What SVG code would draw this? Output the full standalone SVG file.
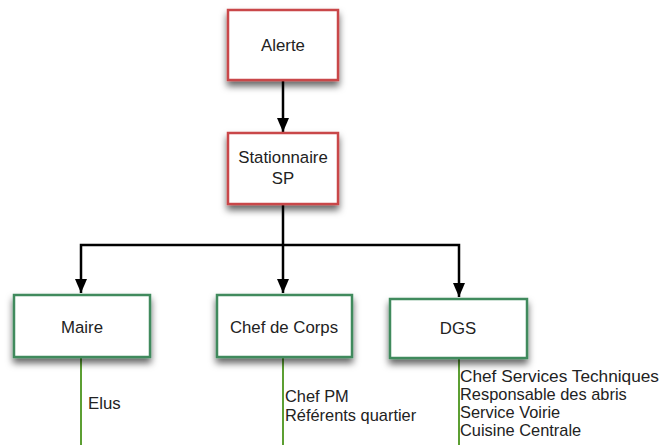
<svg xmlns="http://www.w3.org/2000/svg" width="661" height="445" viewBox="0 0 661 445">
  <style>
    .lbl { font-family: "Liberation Sans", Arial, sans-serif; font-size: 16.8px; fill: #222; }
    .list { font-size: 16.4px; }
    .ctr { text-anchor: middle; }
    .alert { fill: #fff; stroke: #c9464a; stroke-width: 2.5; }
    .role { fill: #fff; stroke: #3f8a5d; stroke-width: 2.5; }
    .flow { fill: none; stroke: #000; stroke-width: 2.5; }
    .duty { fill: none; stroke: #5c9f33; stroke-width: 2; }
  </style>
  <defs>
    <filter id="shadow" x="-20%" y="-20%" width="140%" height="170%">
      <feDropShadow dx="0" dy="5" stdDeviation="3.5" flood-color="#000" flood-opacity="0.6"/>
    </filter>
    <marker id="arrow" viewBox="0 0 14 12" refX="14" refY="6" markerWidth="5.6" markerHeight="4.8" markerUnits="strokeWidth" orient="auto">
      <path d="M0,0 L14,6 L0,12 Z" fill="#000"/>
    </marker>
  </defs>

  <rect width="661" height="445" fill="#fff"/>

  <!-- connectors -->
  <g id="connectors">
    <path class="flow" d="M283,80 V132" marker-end="url(#arrow)"/>
    <path class="flow" d="M283,204 V293" marker-end="url(#arrow)"/>
    <path class="flow" d="M283,245 H81 V293" marker-end="url(#arrow)"/>
    <path class="flow" d="M283,245 H459 V297" marker-end="url(#arrow)"/>
    <path class="duty" d="M81,357 V445"/>
    <path class="duty" d="M283,357 V445"/>
    <path class="duty" d="M459,358 V445"/>
  </g>

  <g id="alerte">
    <rect class="alert" x="228" y="10" width="110" height="70" filter="url(#shadow)"/>
    <text class="lbl ctr" x="283" y="51">Alerte</text>
  </g>

  <g id="stationnaire">
    <rect class="alert" x="228" y="133" width="110" height="71" filter="url(#shadow)"/>
    <text class="lbl ctr" x="283" y="163">Stationnaire</text>
    <text class="lbl ctr" x="283" y="184">SP</text>
  </g>

  <g id="maire">
    <rect class="role" x="14" y="295" width="136" height="62" filter="url(#shadow)"/>
    <text class="lbl ctr" x="82" y="333">Maire</text>
  </g>

  <g id="chef-de-corps">
    <rect class="role" x="217" y="295" width="135" height="62" filter="url(#shadow)"/>
    <text class="lbl ctr" x="284" y="333">Chef de Corps</text>
  </g>

  <g id="dgs">
    <rect class="role" x="390" y="299" width="137" height="59" filter="url(#shadow)"/>
    <text class="lbl ctr" x="458" y="334">DGS</text>
  </g>

  <!-- duties under each role -->
  <g id="maire-duties">
    <text class="lbl" x="88" y="409">Elus</text>
  </g>
  <g id="chef-de-corps-duties">
    <text class="lbl list" x="285" y="402">Chef PM</text>
    <text class="lbl list" x="285" y="421">Référents quartier</text>
  </g>
  <g id="dgs-duties">
    <text class="lbl list" x="460" y="382" textLength="199" lengthAdjust="spacingAndGlyphs">Chef Services Techniques</text>
    <text class="lbl list" x="460" y="400">Responsable des abris</text>
    <text class="lbl list" x="460" y="418">Service Voirie</text>
    <text class="lbl list" x="460" y="436">Cuisine Centrale</text>
  </g>
</svg>
